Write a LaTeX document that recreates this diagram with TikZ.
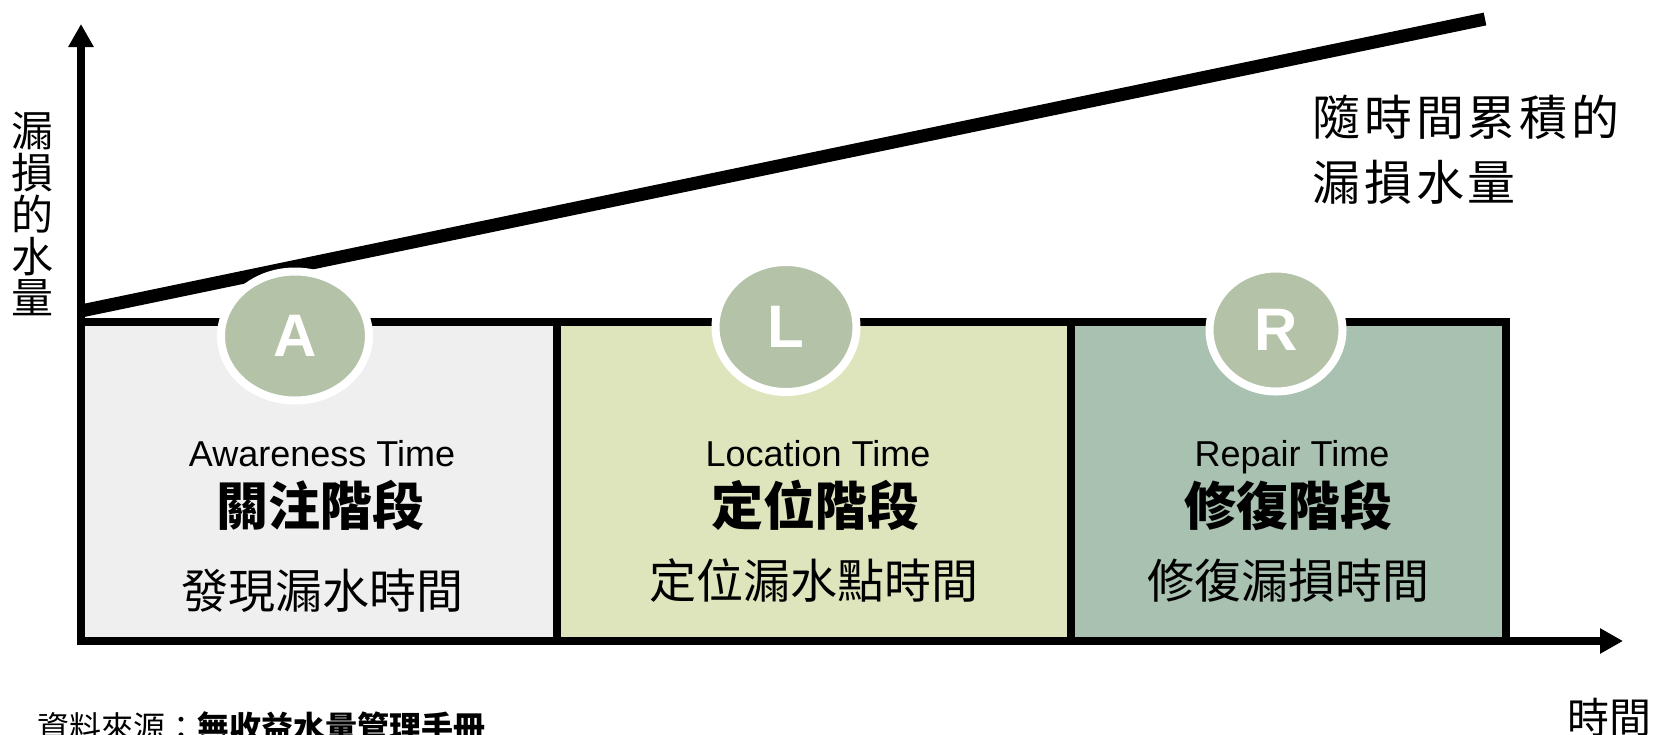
\documentclass[tikz,border=0pt]{standalone}
\usepackage{fontspec}
\setmainfont{Liberation Sans}
\newfontfamily\cjk{Noto Sans CJK TC}
\newfontfamily\cjkls{Noto Sans CJK TC}[LetterSpace=8]
\usetikzlibrary{arrows.meta,shapes.geometric}
\definecolor{boxA}{RGB}{239,239,239}
\definecolor{boxL}{RGB}{222,229,188}
\definecolor{boxR}{RGB}{169,193,176}
\definecolor{badgecol}{RGB}{180,194,167}
\tikzset{
  boxst/.style={draw=black, line width=4pt},
  axis/.style={line width=4pt, -{Triangle[length=11.5pt,width=12pt]}},
  badge/.style={ellipse, fill=badgecol, draw=white, line width=4pt, inner sep=0pt,
    text=white, font=\bfseries\fontsize{30pt}{30pt}\selectfont},
  en/.style={anchor=base, inner sep=0pt, font=\fontsize{18pt}{18pt}\selectfont},
  bd/.style={anchor=base, inner sep=0pt, font=\cjk\bfseries\fontsize{26pt}{26pt}\selectfont},
  rg/.style={anchor=base, inner sep=0pt, font=\cjk\fontsize{23.5pt}{23.5pt}\selectfont},
}
\begin{document}
\begin{tikzpicture}[x=0.5pt,y=-0.5pt]
\useasboundingbox (0,0) rectangle (1659,734);
\begin{scope}
\clip (0,0) rectangle (1659,734);
% boxes
\draw[boxst, fill=boxA] (81,322) rectangle (557,641);
\draw[boxst, fill=boxL] (557,322) rectangle (1071,641);
\draw[boxst, fill=boxR] (1071,322) rectangle (1506,641);
% axes
\coordinate (O) at (81,645);
\coordinate (ytip) at (81,24);
\coordinate (xs) at (77,641);
\coordinate (xtip) at (1623,641);
\draw[axis] (O) -- (ytip);
\draw[axis] (xs) -- (xtip);
% cumulative line
\coordinate (s0) at (81,311);
\coordinate (s1) at (1485,19);
\draw[line width=6.5pt] (s0) -- (s1);
% badges
\node[badge, minimum width=74pt, minimum height=64.5pt] (A) at (295,336) {A};
\node[badge, minimum width=70.5pt, minimum height=65pt] (L) at (786,327) {L};
\node[badge, minimum width=66.5pt, minimum height=61.5pt] (R) at (1276,330) {R};
% box texts
\node[en] (t1) at (322,466) {Awareness Time};
\node[bd] (h1) at (320,525) {關注階段};
\node[rg] (d1) at (322,608) {發現漏水時間};
\node[en] (t2) at (818,466) {Location Time};
\node[bd] (h2) at (815,525) {定位階段};
\node[rg] (d2) at (814,598) {定位漏水點時間};
\node[en] (t3) at (1292,466) {Repair Time};
\node[bd] (h3) at (1288,525) {修復階段};
\node[rg] (d3) at (1288,598) {修復漏損時間};
% labels
\node[anchor=north, align=center, inner sep=0pt, font=\cjk\fontsize{21pt}{20.85pt}\selectfont] (yl) at (32,112) {漏\\損\\的\\水\\量};
\node[anchor=north west, align=left, inner sep=0pt, font=\cjkls\fontsize{24pt}{32.5pt}\selectfont] (rl) at (1312,95) {隨時間累積的\\漏損水量};
\node[anchor=base west, inner sep=0pt, font=\cjk\fontsize{16pt}{16pt}\selectfont] (src) at (37,739) {資料來源：{\bfseries 無收益水量管理手冊}};
\node[anchor=base west, inner sep=0pt, font=\cjk\fontsize{21pt}{21pt}\selectfont] (tl) at (1567,733) {時間};
\end{scope}
\end{tikzpicture}
\end{document}
